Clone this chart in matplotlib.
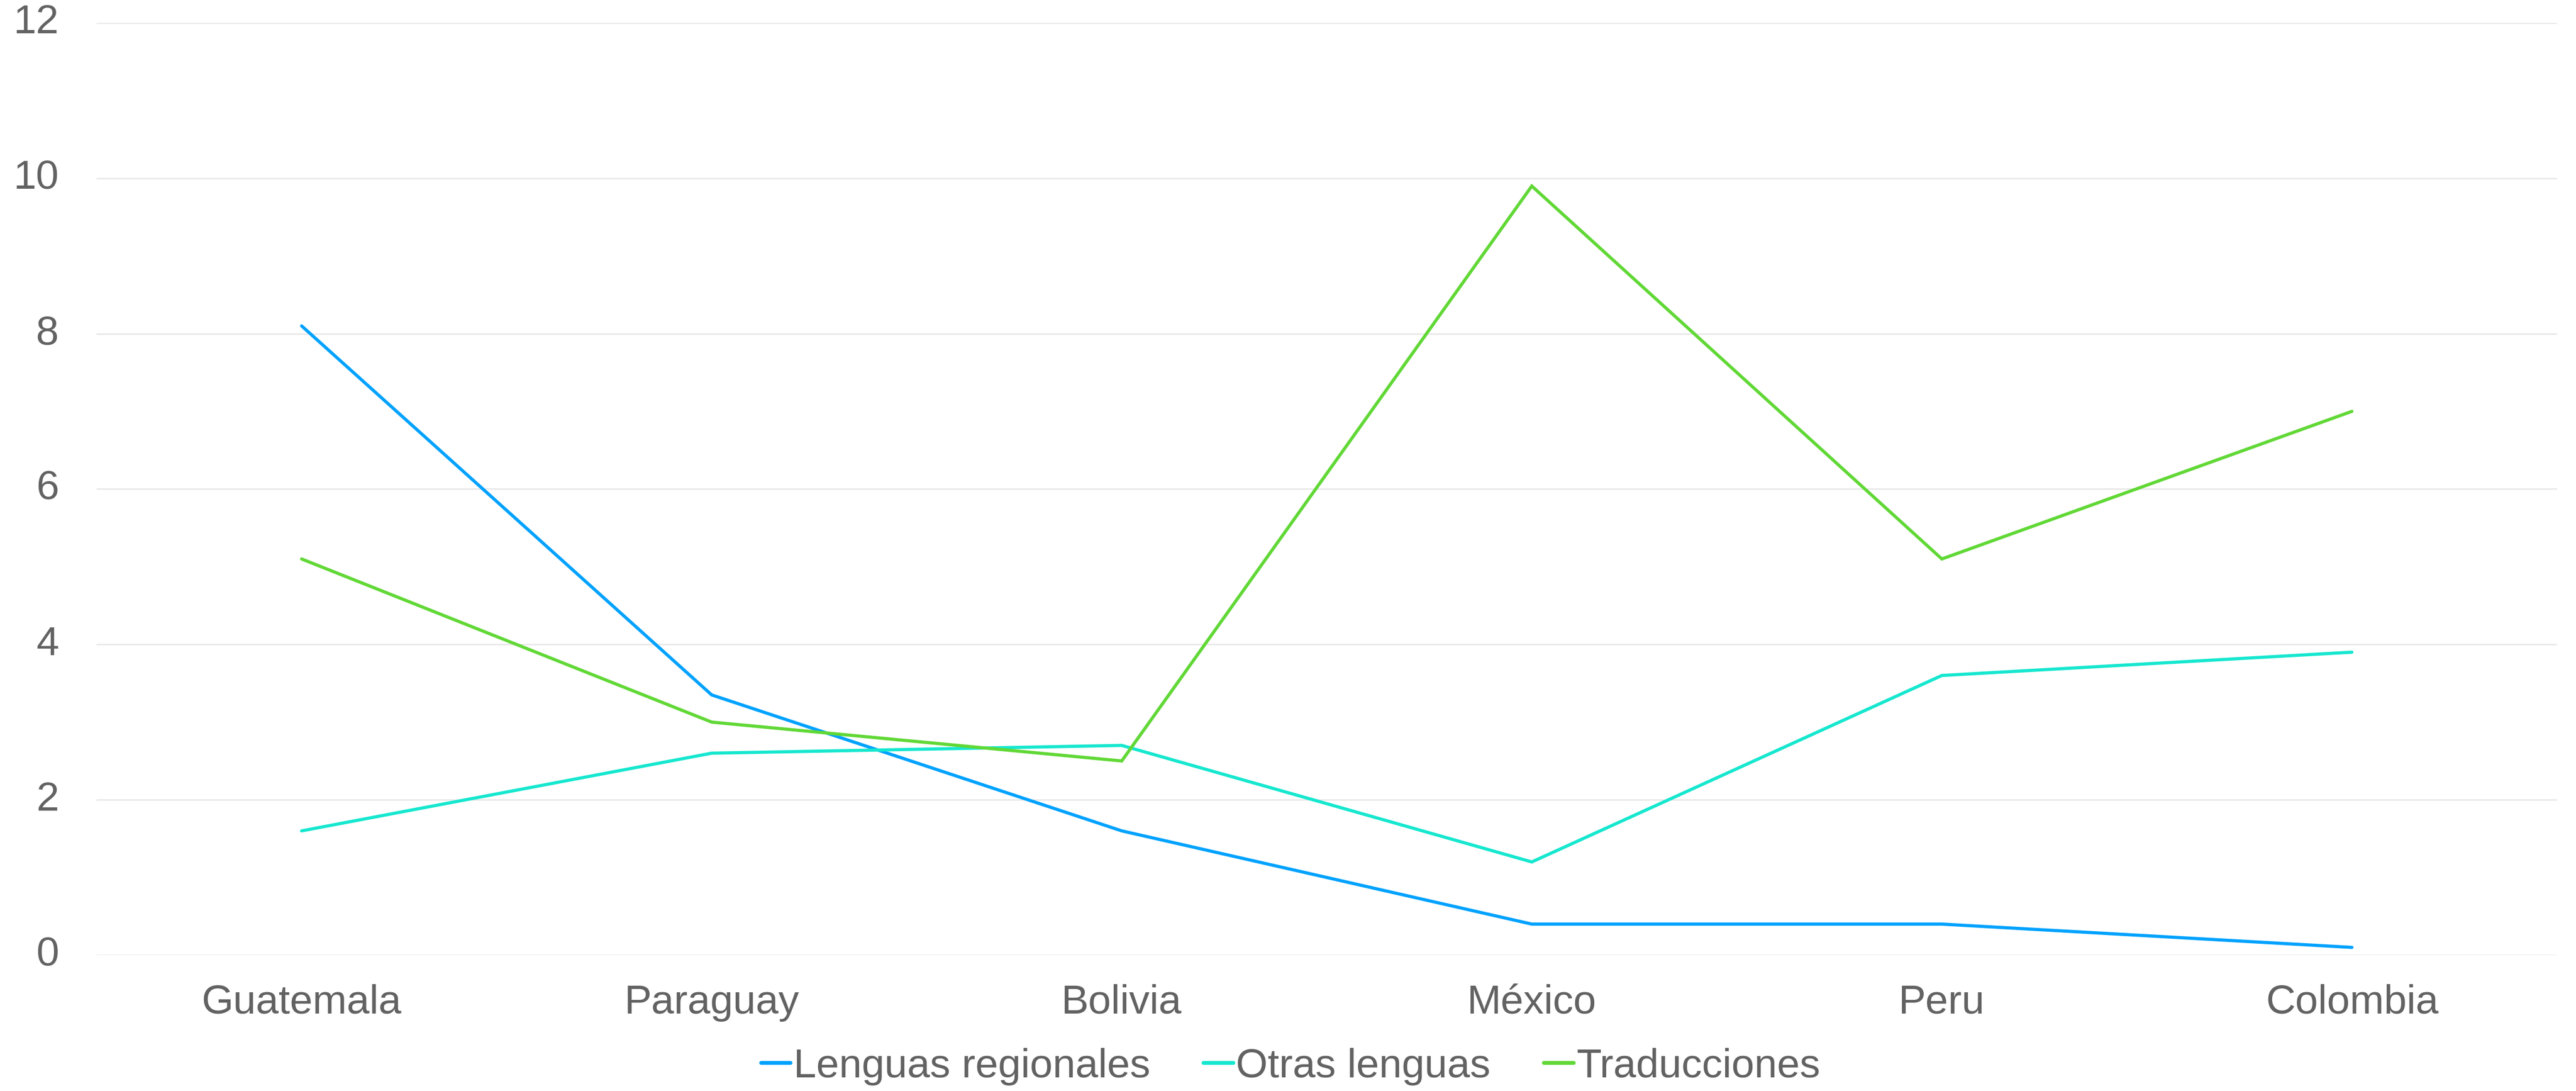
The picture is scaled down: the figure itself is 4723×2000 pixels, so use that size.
import matplotlib
matplotlib.use("Agg")
import matplotlib.pyplot as plt

categories = ["Guatemala", "Paraguay", "Bolivia", "México", "Peru", "Colombia"]
lenguas_regionales = [8.1, 3.35, 1.6, 0.4, 0.4, 0.1]
otras_lenguas = [1.6, 2.6, 2.7, 1.2, 3.6, 3.9]
traducciones = [5.1, 3.0, 2.5, 9.9, 5.1, 7.0]
series_names = ["Lenguas regionales", "Otras lenguas", "Traducciones"]
y_ticks = [0, 2, 4, 6, 8, 10, 12]

colors = ["#00A2FF", "#16E7CF", "#61D836"]
text_color = "#626262"

plt.rcParams['font.family'] = ['Liberation Sans', 'DejaVu Sans']

fig = plt.figure(figsize=(47.23, 20), dpi=100)
ax = fig.add_axes([0.0375, 0.1245, 0.9551, 0.8545])

x = list(range(len(categories)))
for vals, name, c in zip([lenguas_regionales, otras_lenguas, traducciones], series_names, colors):
    ax.plot(x, vals, color=c, lw=4.2, label=name, solid_joinstyle='miter',
            solid_capstyle='round', zorder=3)

ax.set_xlim(-0.5, len(categories) - 0.5)
ax.set_ylim(0, 12)
ax.set_yticks(y_ticks)
ax.set_yticklabels([str(t) for t in y_ticks])
ax.set_xticks(x)
ax.set_xticklabels(categories)
ax.grid(axis='y', color='#e6e6e6', lw=1.8, zorder=0)
ax.grid(axis='x', visible=False)
for s in ax.spines.values():
    s.set_visible(False)
ax.tick_params(axis='both', length=0, labelsize=54, colors=text_color)
ax.tick_params(axis='y', pad=50)
ax.tick_params(axis='x', pad=38)
for lbl in ax.get_yticklabels():
    lbl.set_verticalalignment('center')

leg = fig.legend(loc='center', bbox_to_anchor=(0.501, 0.0225), ncol=3, frameon=False,
                 fontsize=54, handlelength=0.73, handletextpad=0.07, columnspacing=1.3,
                 borderpad=0, borderaxespad=0)
for line in leg.get_lines():
    line.set_linewidth(5)
for t in leg.get_texts():
    t.set_color(text_color)

fig.savefig("out.png", dpi=100, facecolor='white')
